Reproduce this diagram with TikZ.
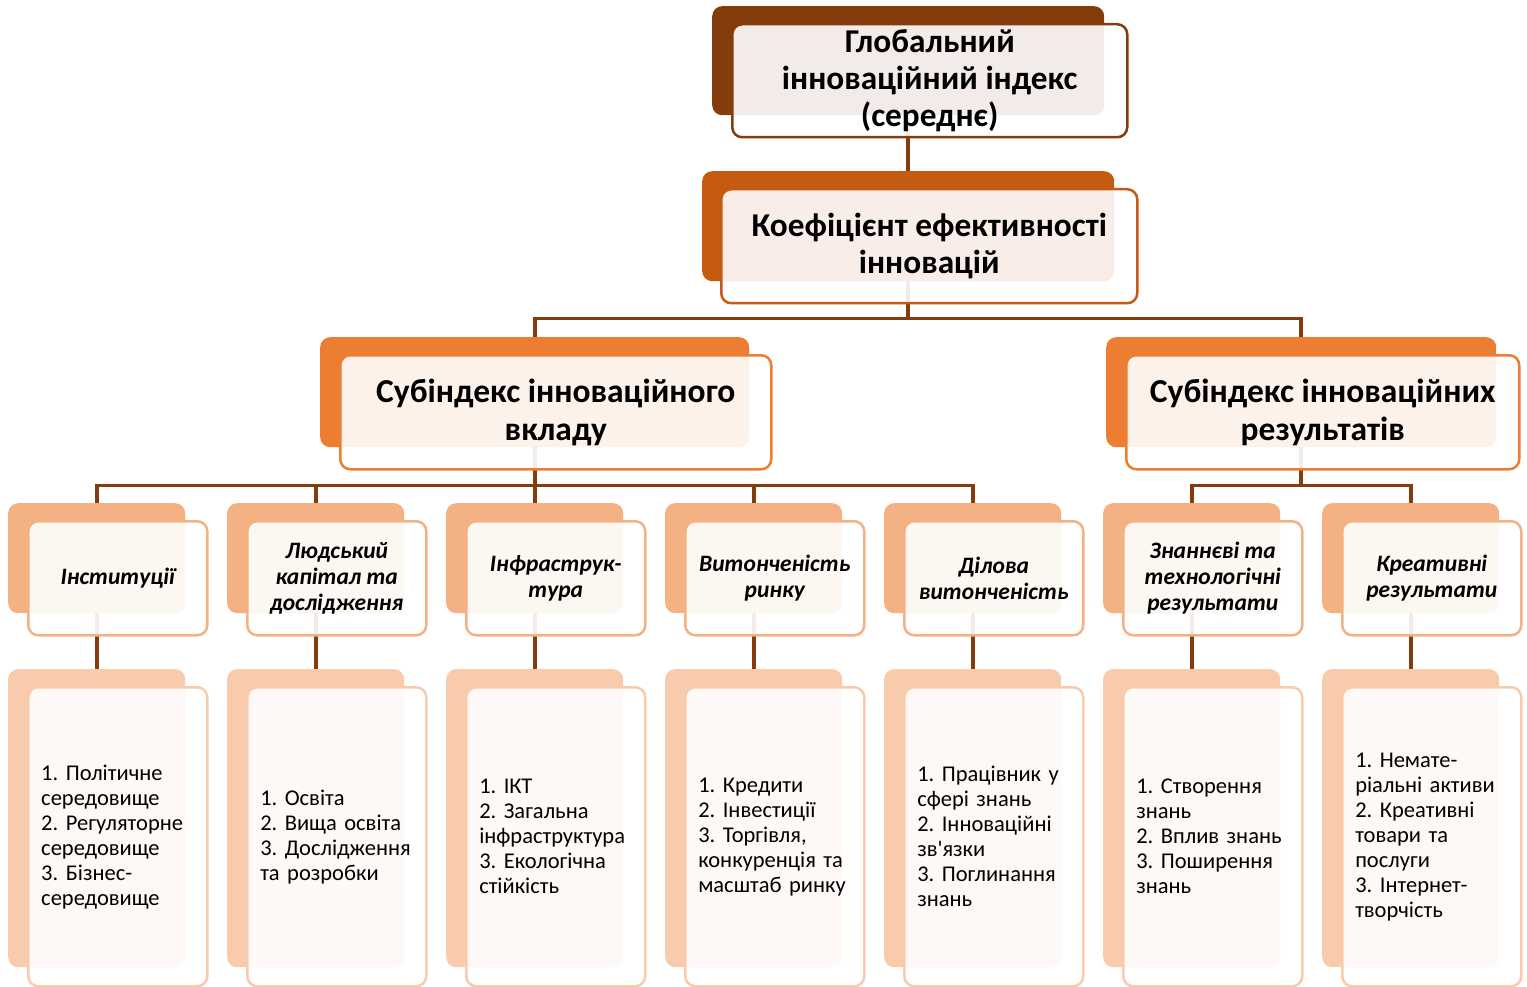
\documentclass[tikz,border=0pt]{standalone}
\usepackage{fontspec}
\setmainfont{Carlito}[Ligatures=TeXOff]
\definecolor{c0}{HTML}{843C0C}
\definecolor{c1}{HTML}{C55A11}
\definecolor{c2}{HTML}{ED7D31}
\definecolor{c3}{HTML}{F4B183}
\definecolor{c4}{HTML}{F8CBAD}
\tikzset{
  backbox/.style={rectangle, rounded corners=10pt, draw=none, anchor=north west, inner sep=0pt},
  frontbox/.style={rectangle, rounded corners=10pt, fill=white, fill opacity=0.9, text opacity=1,
    line width=2.5pt, anchor=north west, inner sep=0pt, align=center},
  conn/.style={draw=c0, line width=3.6pt},
  t01/.style={font=\fontsize{33.3}{37}\selectfont\bfseries},
  t2/.style={font=\fontsize{33.5}{38}\selectfont\bfseries},
  t3/.style={font=\fontsize{23.5}{26}\selectfont\bfseries\itshape},
  t4/.style={font=\fontsize{22.5}{25}\selectfont, align=left, text width=153pt, inner xsep=13pt},
  b3/.style={backbox, fill=c3, minimum width=177pt, minimum height=110pt},
  f3/.style={frontbox, draw=c3, minimum width=179pt, minimum height=114pt, t3},
  b4/.style={backbox, fill=c4, minimum width=177pt, minimum height=298pt},
  f4/.style={frontbox, draw=c4, minimum width=179pt, minimum height=299pt, t4},
}
\begin{document}
\frenchspacing
\begin{tikzpicture}[x=1pt,y=-1pt]
\useasboundingbox (0,0) rectangle (1527,987);
% back boxes
\node[backbox, fill=c0, minimum width=392pt, minimum height=109pt] (b0) at (712,6) {};
\node[backbox, fill=c1, minimum width=412pt, minimum height=110pt] (b1) at (702,171) {};
\node[backbox, fill=c2, minimum width=429pt, minimum height=110pt] (b2a) at (320,337) {};
\node[backbox, fill=c2, minimum width=390pt, minimum height=110pt] (b2b) at (1106,337) {};
\node[b3] (b3a) at (8,503) {};
\node[b3] (b3b) at (227,503) {};
\node[b3] (b3c) at (446,503) {};
\node[b3] (b3d) at (665,503) {};
\node[b3] (b3e) at (884,503) {};
\node[b3] (b3f) at (1103,503) {};
\node[b3] (b3g) at (1322,503) {};
\node[b4] (b4a) at (8,669) {};
\node[b4] (b4b) at (227,669) {};
\node[b4] (b4c) at (446,669) {};
\node[b4] (b4d) at (665,669) {};
\node[b4] (b4e) at (884,669) {};
\node[b4] (b4f) at (1103,669) {};
\node[b4] (b4g) at (1322,669) {};
% connectors
\draw[conn] (b0.south) -- (b1.north);
\draw[conn] (b1.south) -- ++(0,37) -| (b2a.north);
\draw[conn] (b1.south) -- ++(0,37) -| (b2b.north);
\foreach \c in {b3a,b3b,b3c,b3d,b3e}{\draw[conn] (b2a.south) -- ++(0,38) -| (\c.north);}
\foreach \c in {b3f,b3g}{\draw[conn] (b2b.south) -- ++(0,38) -| (\c.north);}
\foreach \c in {a,b,c,d,e,f,g}{\draw[conn] (b3\c.south) -- (b4\c.north);}
% front boxes
\node[frontbox, draw=c0, minimum width=395pt, minimum height=113pt, t01] (f0) at (731,23) {Глобальний\\інноваційний індекс\\(середнє)};
\node[frontbox, draw=c1, minimum width=416pt, minimum height=114pt, t01] (f1) at (720,188) {Коефіцієнт ефективності\\інновацій};
\node[frontbox, draw=c2, minimum width=431pt, minimum height=114pt, t2] (f2a) at (339,354) {Субіндекс інноваційного\\вкладу};
\node[frontbox, draw=c2, minimum width=393pt, minimum height=114pt, t2] (f2b) at (1125,354) {Субіндекс інноваційних\\результатів};
\node[f3] (f3a) at (27,520) {Інституції};
\node[f3] (f3b) at (246,520) {Людський\\капітал та\\дослідження};
\node[f3] (f3c) at (465,520) {Інфраструк-\\тура};
\node[f3] (f3d) at (684,520) {Витонченість\\ринку};
\node[f3] (f3e) at (903,520) {Ділова\\витонченість};
\node[f3] (f3f) at (1122,520) {Знаннєві та\\технологічні\\результати};
\node[f3] (f3g) at (1341,520) {Креативні\\результати};
\node[f4] (f4a) at (27,686) {1. Політичне\\середовище\\2. Регуляторне\\середовище\\3. Бізнес-\\середовище};
\node[f4] (f4b) at (246,686) {1. Освіта\\2. Вища освіта\\3. Дослідження\\та розробки};
\node[f4] (f4c) at (465,686) {1. ІКТ\\2. Загальна\\інфраструктура\\3. Екологічна\\стійкість};
\node[f4] (f4d) at (684,686) {1. Кредити\\2. Інвестиції\\3. Торгівля,\\конкуренція та\\масштаб ринку};
\node[f4] (f4e) at (903,686) {1. Працівник у\\сфері знань\\2. Інноваційні\\зв'язки\\3. Поглинання\\знань};
\node[f4] (f4f) at (1122,686) {1. Створення\\знань\\2. Вплив знань\\3. Поширення\\знань};
\node[f4] (f4g) at (1341,686) {1. Немате-\\ріальні активи\\2. Креативні\\товари та\\послуги\\3. Інтернет-\\творчість};
\end{tikzpicture}
\end{document}
